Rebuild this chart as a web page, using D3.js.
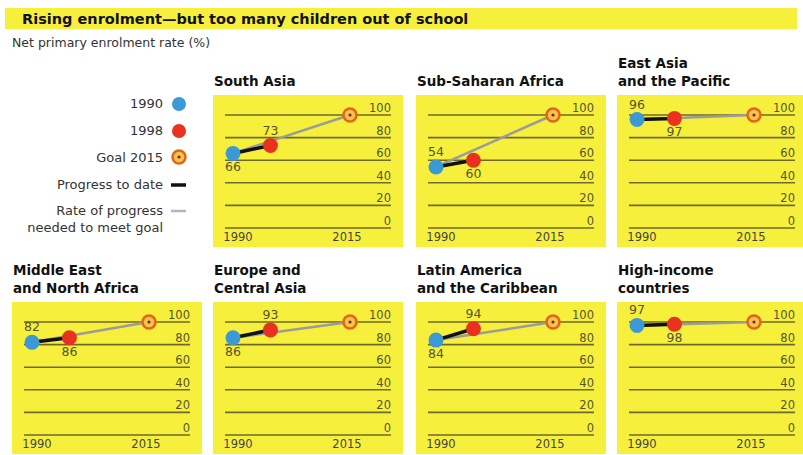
<!DOCTYPE html>
<html><head><meta charset="utf-8">
<script src="https://cdn.jsdelivr.net/npm/d3@7"></script>
<style>body{margin:0;background:#fff}svg{display:block}</style>
</head><body>
<svg id="c" width="803" height="455"></svg>
<script>
// ---- data ----
const regions = [
  "South Asia", "Sub-Saharan Africa", "East Asia\nand the Pacific",
  "Middle East\nand North Africa", "Europe and\nCentral Asia",
  "Latin America\nand the Caribbean", "High-income\ncountries"
];
const values1990 = [66, 54, 96, 82, 86, 84, 97];
const values1998 = [73, 60, 97, 86, 93, 94, 98];
const goal2015   = [100, 100, 100, 100, 100, 100, 100];
const label1990Pos = ["below", "above", "above", "above", "below", "below", "above"];
const label1998Pos = ["above", "below", "below", "below", "above", "above", "below"];
const years = [1990, 1998, 2015];
const yTicks = [0, 20, 40, 60, 80, 100];
const yearLabels = ["1990", "2015"];
const legendLabels = ["1990", "1998", "Goal 2015", "Progress to date", "Rate of progress\nneeded to meet goal"];

// ---- layout ----
const svg = d3.select("#c");
const YELLOW = "#f6f03c", GRID = "#6e6a2c", BLUE = "#3b9ad6", RED = "#e8321e",
      ORANGE = "#e4641a", GREY = "#9b9b9b";
const titleFont = "'DejaVu Sans', sans-serif";
const bodyFont = "'DejaVu Sans', sans-serif";

// header band
svg.append("rect").attr("x", 5).attr("y", 8).attr("width", 792).attr("height", 21).attr("fill", YELLOW);
svg.append("text").attr("x", 22).attr("y", 24).attr("font-family", titleFont).attr("font-weight", "bold")
  .attr("font-size", 14.5).attr("fill", "#111").text("Rising enrolment\u2014but too many children out of school");
svg.append("text").attr("x", 12).attr("y", 47).attr("font-family", bodyFont)
  .attr("font-size", 12.5).attr("fill", "#333").text("Net primary enrolment rate (%)");

const colLefts = [12, 213, 416, 617];
const rowTops = [95, 302];
const panelW = 190, panelH = 152;
// slot of each region: [row, col]
const slots = [[0,1],[0,2],[0,3],[1,0],[1,1],[1,2],[1,3]];

function goalMarker(g, cx, cy) {
  g.append("circle").attr("cx", cx).attr("cy", cy).attr("r", 6.5)
    .attr("fill", "#f9c44e").attr("stroke", ORANGE).attr("stroke-width", 2.5);
  g.append("circle").attr("cx", cx).attr("cy", cy).attr("r", 1.6).attr("fill", "#7a2a0c");
}

regions.forEach((name, i) => {
  const [r, c] = slots[i];
  const left = colLefts[c], top = rowTops[r];
  const g = svg.append("g");
  g.append("rect").attr("x", left).attr("y", top).attr("width", panelW).attr("height", panelH).attr("fill", YELLOW);

  // title
  const lines = name.split("\n");
  lines.forEach((ln, k) => {
    g.append("text").attr("x", left + 1).attr("y", top - 9 - (lines.length - 1 - k) * 18)
      .attr("font-family", titleFont).attr("font-weight", "bold").attr("font-size", 13.5)
      .attr("fill", "#111").text(ln);
  });

  const x = d3.scaleLinear().domain([1990, 2015]).range([left + 20, left + 137]);
  const y = d3.scaleLinear().domain([0, 100]).range([top + 133, top + 20]);
  const gx0 = left + 12, gx1 = left + panelW - 12;

  // gridlines + tick labels
  yTicks.forEach(t => {
    g.append("line").attr("x1", gx0).attr("x2", gx1).attr("y1", y(t)).attr("y2", y(t))
      .attr("stroke", GRID).attr("stroke-width", 1.6);
    g.append("text").attr("x", gx1).attr("y", y(t) - 3).attr("text-anchor", "end")
      .attr("font-family", bodyFont).attr("font-size", 11.5).attr("fill", "#55552e").text(t);
  });
  // year labels
  g.append("text").attr("x", x(1990) + 5).attr("y", top + 146).attr("text-anchor", "middle")
    .attr("font-family", bodyFont).attr("font-size", 11.5).attr("fill", "#444").text(yearLabels[0]);
  g.append("text").attr("x", x(2015) - 3).attr("y", top + 146).attr("text-anchor", "middle")
    .attr("font-family", bodyFont).attr("font-size", 11.5).attr("fill", "#444").text(yearLabels[1]);

  const v = [values1990[i], values1998[i], goal2015[i]];
  // needed rate line
  g.append("line").attr("x1", x(years[0])).attr("y1", y(v[0])).attr("x2", x(years[2])).attr("y2", y(v[2]))
    .attr("stroke", GREY).attr("stroke-width", 2.5);
  // progress line
  g.append("line").attr("x1", x(years[0])).attr("y1", y(v[0])).attr("x2", x(years[1])).attr("y2", y(v[1]))
    .attr("stroke", "#111").attr("stroke-width", 3.5);
  g.append("circle").attr("cx", x(years[0])).attr("cy", y(v[0])).attr("r", 7.5).attr("fill", BLUE);
  g.append("circle").attr("cx", x(years[1])).attr("cy", y(v[1])).attr("r", 7.5).attr("fill", RED);
  goalMarker(g, x(years[2]), y(v[2]));

  // value labels
  [[0, label1990Pos[i]], [1, label1998Pos[i]]].forEach(([k, pos]) => {
    g.append("text").attr("x", x(years[k])).attr("y", y(v[k]) + (pos === "above" ? -11 : 18))
      .attr("text-anchor", "middle").attr("font-family", bodyFont).attr("font-size", 12.5)
      .attr("fill", "#55552e").text(v[k]);
  });
});

// legend
const lg = svg.append("g").attr("font-family", bodyFont).attr("font-size", 13).attr("fill", "#333");
const lx = 163, mx = 179;
lg.append("text").attr("x", lx).attr("y", 108).attr("text-anchor", "end").text(legendLabels[0]);
lg.append("circle").attr("cx", mx).attr("cy", 104).attr("r", 7).attr("fill", BLUE);
lg.append("text").attr("x", lx).attr("y", 135).attr("text-anchor", "end").text(legendLabels[1]);
lg.append("circle").attr("cx", mx).attr("cy", 131).attr("r", 7).attr("fill", RED);
lg.append("text").attr("x", lx).attr("y", 162).attr("text-anchor", "end").text(legendLabels[2]);
goalMarker(lg, mx, 157);
lg.append("text").attr("x", lx).attr("y", 189).attr("text-anchor", "end").text(legendLabels[3]);
lg.append("line").attr("x1", 171).attr("x2", 186).attr("y1", 185).attr("y2", 185).attr("stroke", "#111").attr("stroke-width", 3.5);
const l5 = legendLabels[4].split("\n");
lg.append("text").attr("x", lx).attr("y", 215).attr("text-anchor", "end").text(l5[0]);
lg.append("text").attr("x", lx).attr("y", 232).attr("text-anchor", "end").text(l5[1]);
lg.append("line").attr("x1", 171).attr("x2", 186).attr("y1", 211).attr("y2", 211).attr("stroke", "#b5b5b5").attr("stroke-width", 2.5);
</script>
</body></html>
